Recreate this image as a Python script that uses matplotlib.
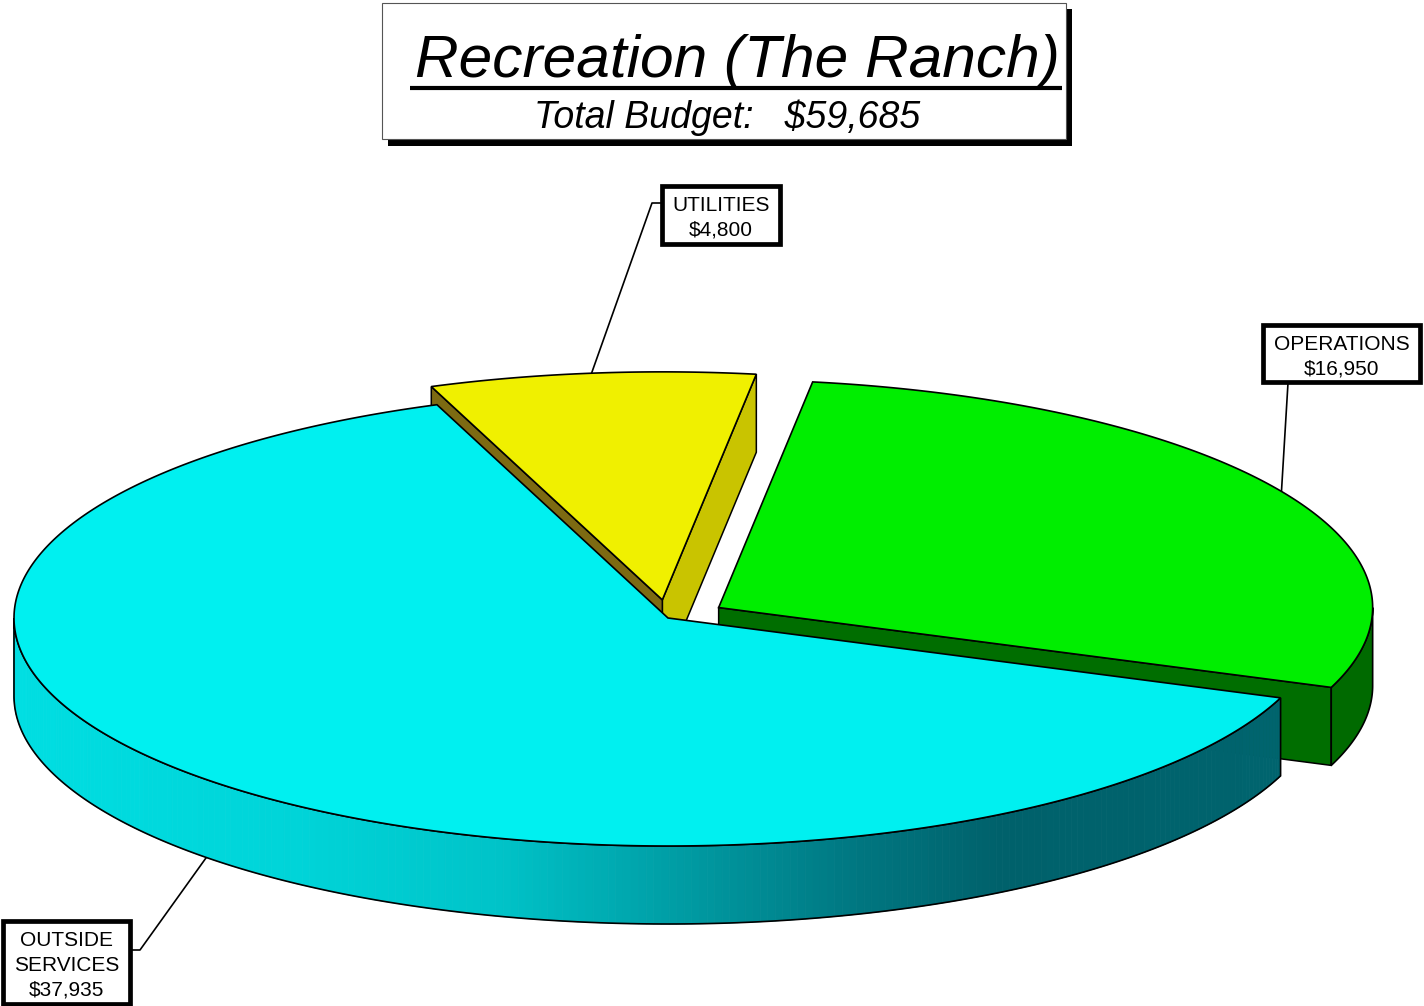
""" Exploded 3D budget pie for Recreation (The Ranch)
"""

import numpy as np
import matplotlib
matplotlib.use('Agg')
import matplotlib.pyplot as plt
from matplotlib.patches import Polygon, Rectangle

plt.rcParams['font.family'] = ['Liberation Sans', 'DejaVu Sans']

# data
categories = ['OPERATIONS', 'UTILITIES', 'OUTSIDE SERVICES']
box_lines = [['OPERATIONS'], ['UTILITIES'], ['OUTSIDE', 'SERVICES']]
values = [16950, 4800, 37935]
title = 'Recreation (The Ranch)'

# layout (pixels, y down)
W, H = 1424, 1006
CX, CY = 668, 618
RX, RY = 654, 228
DEPTH = 78
START = -20.5
explode = [0.09, 0.08, 0.0]

top_colors = ['#00ee00', '#f0f000', '#00f0f0']
side_colors = ['#006a00', '#7d6a12', None]
radial_colors = {('OPERATIONS', 'start'): '#006e00',
                 ('UTILITIES', 'start'): '#c9c400',
                 ('UTILITIES', 'end'): '#7d6a12'}

box_rects = [(1263, 325, 1420, 382), (662, 186, 780, 244), (3, 921, 130, 1004)]
leader_elbows = [[(1288, 383)], [(652, 203), (662, 203)], [(140, 950), (130, 950)]]

# cyan side gradient along x
grad_x = [14, 300, 500, 700, 850, 1000, 1290]
grad_rgb = np.array([(0, 222, 226), (0, 212, 216), (0, 195, 200), (0, 152, 160),
                     (0, 120, 130), (0, 97, 107), (0, 100, 110)]) / 255.0


def cyan_shade(x):
    return tuple(np.interp(x, grad_x, grad_rgb[:, k]) for k in range(3))


def rim(theta, off, drop=0.0):
    t = np.radians(theta)
    return (CX + off[0] + RX * np.cos(t),
            CY + off[1] - RY * np.sin(t) + drop)


def visible_ranges(a0, a1):
    """ parts of [a0, a1] where the outer side faces the viewer """
    out = []
    for lo, hi in [(-180, 0), (180, 360), (540, 720)]:
        s, e = max(a0, lo), min(a1, hi)
        if e > s:
            out.append((s, e))
    return out


fig = plt.figure(figsize=(W / 100, H / 100), dpi=100)
ax = fig.add_axes([0, 0, 1, 1])
ax.set_xlim(0, W)
ax.set_ylim(H, 0)
ax.axis('off')

total = sum(values)
spans = [360.0 * v / total for v in values]
starts = START + np.concatenate([[0], np.cumsum(spans)[:-1]])

slices = []
for idx, name in enumerate(categories):
    a0 = starts[idx]
    a1 = a0 + spans[idx]
    mid = 0.5 * (a0 + a1)
    e = explode[idx]
    off = (e * RX * np.cos(np.radians(mid)), -e * RY * np.sin(np.radians(mid)))
    slices.append((idx, name, a0, a1, mid, off))

# paint back to front: utilities, operations, outside services
for idx, name, a0, a1, mid, off in [slices[1], slices[0], slices[2]]:
    apex = (CX + off[0], CY + off[1])

    # radial faces
    for which, ang, normal in [('start', a0, a0 - 90), ('end', a1, a1 + 90)]:
        if np.sin(np.radians(normal)) >= 0:
            continue
        col = radial_colors.get((name, which), '#333333')
        px, py = rim(ang, off)
        poly = [apex, (px, py), (px, py + DEPTH), (apex[0], apex[1] + DEPTH)]
        ax.add_patch(Polygon(poly, closed=True, facecolor=col,
                             edgecolor='black', lw=1.1, zorder=2))

    # outer side
    for s, e in visible_ranges(a0, a1):
        th = np.linspace(s, e, 240)
        xt, yt = rim(th, off)
        if side_colors[idx] is None:
            for k in range(len(th) - 1):
                quad = [(xt[k], yt[k]), (xt[k + 1], yt[k + 1]),
                        (xt[k + 1], yt[k + 1] + DEPTH), (xt[k], yt[k] + DEPTH)]
                c = cyan_shade(0.5 * (xt[k] + xt[k + 1]))
                ax.add_patch(Polygon(quad, closed=True, facecolor=c,
                                     edgecolor=c, lw=0.6, zorder=2))
        else:
            pts = list(zip(xt, yt)) + list(zip(xt[::-1], yt[::-1] + DEPTH))
            ax.add_patch(Polygon(pts, closed=True, facecolor=side_colors[idx],
                                 edgecolor='none', zorder=2))
        pts = list(zip(xt, yt)) + list(zip(xt[::-1], yt[::-1] + DEPTH))
        ax.add_patch(Polygon(pts, closed=True, fill=False,
                             edgecolor='black', lw=1.2, zorder=2))

    # top face
    th = np.linspace(a0, a1, 400)
    xt, yt = rim(th, off)
    pts = [apex] + list(zip(xt, yt))
    ax.add_patch(Polygon(pts, closed=True, facecolor=top_colors[idx],
                         edgecolor='black', lw=1.2, joinstyle='miter', zorder=2))

# labels with leaders
for idx, name, a0, a1, mid, off in slices:
    if np.sin(np.radians(mid)) >= 0:
        ax_, ay_ = rim(mid, off)
    else:
        ax_, ay_ = rim(mid, off, DEPTH)
    path = [(ax_, ay_)] + leader_elbows[idx]
    ax.plot([p[0] for p in path], [p[1] for p in path], color='black',
            lw=1.2, zorder=3, solid_capstyle='butt')

    x0, y0, x1, y1 = box_rects[idx]
    ax.add_patch(Rectangle((x0, y0), x1 - x0, y1 - y0, facecolor='white',
                           edgecolor='black', lw=3.4, zorder=4))
    lines = box_lines[idx] + ['${:,}'.format(values[idx])]
    step = 24.5
    yc = 0.5 * (y0 + y1) + 3 - step * (len(lines) - 1) / 2.0
    for k, line in enumerate(lines):
        ax.text(0.5 * (x0 + x1), yc + k * step, line, ha='center', va='center',
                fontsize=15, color='black', zorder=5)

# title box with drop shadow
ax.add_patch(Rectangle((388, 9), 684, 137, facecolor='black',
                       edgecolor='none', zorder=6))
ax.add_patch(Rectangle((382, 3), 684, 136, facecolor='white',
                       edgecolor='#555555', lw=0.8, zorder=7))
ax.text(737, 77, title, ha='center', va='baseline', fontsize=43.5,
        style='italic', color='black', zorder=8)
ax.plot([410, 1062], [88, 88], color='black', lw=3.0, zorder=8,
        solid_capstyle='butt')
ax.text(727, 128, 'Total Budget:   ${:,}'.format(total), ha='center',
        va='baseline', fontsize=27, style='italic', color='black', zorder=8)

fig.savefig('out.png', dpi=100, facecolor='white')
